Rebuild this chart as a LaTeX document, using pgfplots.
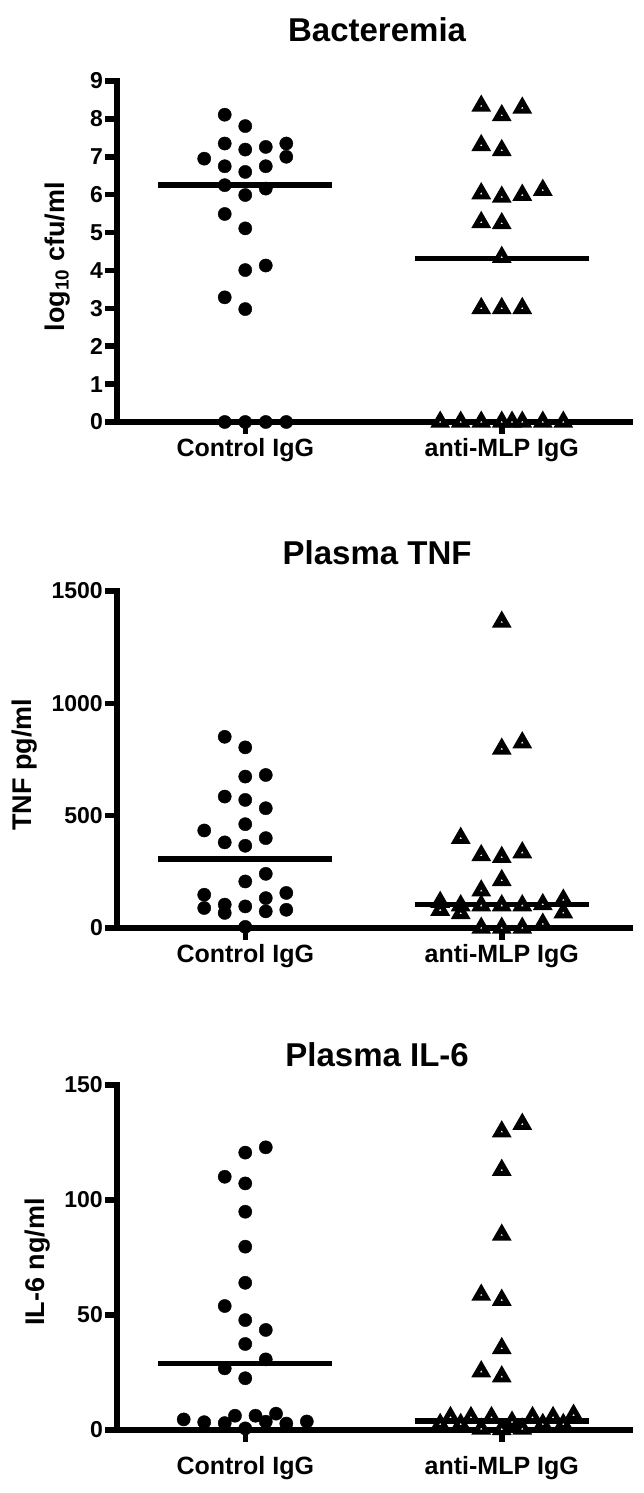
\documentclass[border=0pt]{standalone}
\usepackage{pgfplots}
\pgfplotsset{compat=1.18}
\usepackage{fontspec}
\setmainfont{Liberation Sans}
\newcommand{\fs}[1]{\fontsize{#1pt}{#1pt}\selectfont\bfseries}
\pgfplotsset{
  panel/.style={
    scale only axis, width=513pt, anchor=south west,
    axis x line*=bottom, axis y line*=left,
    axis line style={-, line width=5.5pt, line cap=rect},
    tick style={line width=5.5pt, black},
    tick align=outside, major tick length=12pt,
    xmin=-0.5, xmax=1.5, ymin=0,
    xtick={0,1}, xticklabels={Control IgG, anti-MLP IgG},
    clip=false,
    /pgf/number format/assume math mode=true,
    /pgf/number format/1000 sep={},
    yticklabel style={font=\fs{23}, inner sep=0pt, xshift=-2pt},
    xticklabel style={font=\fs{25}, inner sep=0pt, yshift=-4pt},
    ylabel style={font=\fs{27}, inner sep=0pt, anchor=south},
    title style={font=\fs{33}, inner sep=0pt, anchor=base, at={(axis description cs:0.507,1)}, yshift=33pt},
  },
  ctrl/.style={only marks, mark=*, mark size=6.6pt, mark options={draw=none, fill=black}},
  anti/.style={only marks, mark=triangle*, mark size=6.5pt, mark options={draw=black, fill=white, line width=5pt, line join=miter}},
  med/.style={black, line width=5.5pt, no marks},
}
\begin{document}
\begin{tikzpicture}
\useasboundingbox (0,0) rectangle (643pt,1493pt);
% ---------- Bacteremia ----------
\begin{axis}[panel, at={(117pt,1071pt)}, height=341pt, ymax=9, ytick={0,1,...,9},
  title={Bacteremia}, ylabel={log\textsubscript{10} cfu/ml},
  ylabel style={at={(axis description cs:-0.0916,0.485)}}]
\addplot[med] coordinates {(-0.34,6.25) (0.34,6.25)};
\addplot[med] coordinates {(0.66,4.32) (1.34,4.32)};
\addplot[ctrl] coordinates {(-0.08,8.11) (0,7.81) (-0.08,7.35) (0,7.19) (0.08,7.26) (0.16,7.35) (0.16,7.0) (-0.16,6.95) (-0.08,6.75) (0,6.6) (0.08,6.75) (-0.08,6.25) (0.08,6.16) (0,5.99) (-0.08,5.49) (0,5.11) (0,4.01) (0.08,4.13) (-0.08,3.29) (0,2.98) (-0.08,0) (0,0) (0.08,0) (0.16,0)};
\addplot[anti] coordinates {(0.92,8.34) (1,8.09) (1.08,8.29) (0.92,7.30) (1,7.17) (0.92,6.03) (1,5.94) (1.08,5.99) (1.16,6.12) (0.92,5.27) (1,5.24) (1,4.35) (0.92,3.0) (1,3.0) (1.08,3.0) (0.76,0) (0.84,0) (0.92,0) (1,0) (1.04,0) (1.08,0) (1.16,0) (1.24,0)};
\end{axis}
% ---------- Plasma TNF ----------
\begin{axis}[panel, at={(117pt,565pt)}, height=337pt, ymax=1500, ytick={0,500,1000,1500},
  title={Plasma TNF}, title style={yshift=-13pt}, ylabel={TNF pg/ml},
  ylabel style={at={(axis description cs:-0.156,0.485)}}]
\addplot[med] coordinates {(-0.34,307) (0.34,307)};
\addplot[med] coordinates {(0.66,104) (1.34,104)};
\addplot[ctrl] coordinates {(-0.08,851) (0,804) (0,674) (0.08,681) (-0.08,585) (0,570) (0.08,533) (0,462) (-0.16,434) (0.08,400) (-0.08,381) (0,366) (0.08,241) (0,207) (-0.16,148) (-0.16,89) (-0.08,104) (-0.08,67) (0,96) (0.08,133) (0.08,74) (0.16,156) (0.16,81) (0,5)};
\addplot[anti] coordinates {(1,1362) (1,797) (1.08,825) (0.84,400) (0.92,323) (1,315) (1.08,336) (1,212) (0.92,166) (0.76,115) (0.84,100) (0.92,100) (1,100) (1.08,100) (1.16,105) (1.24,125) (0.76,80) (0.84,65) (1.24,68) (0.92,0) (1,0) (1.08,0) (1.16,18)};
\end{axis}
% ---------- Plasma IL-6 ----------
\begin{axis}[panel, at={(117pt,63pt)}, height=345pt, ymax=150, ytick={0,50,100,150},
  title={Plasma IL-6}, title style={yshift=-21pt}, ylabel={IL-6 ng/ml},
  xticklabel style={yshift=-10pt},
  ylabel style={at={(axis description cs:-0.1306,0.487)}}]
\addplot[med] coordinates {(-0.34,29.0) (0.34,29.0)};
\addplot[med] coordinates {(0.66,4.0) (1.34,4.0)};
\addplot[ctrl] coordinates {(0.08,122.9) (0,120.6) (-0.08,110.1) (0,107.2) (0,94.9) (0,79.7) (0,64.0) (-0.08,53.9) (0,47.8) (0.08,43.5) (0,37.4) (0.08,30.7) (-0.08,26.8) (0,22.5) (-0.24,4.6) (-0.16,3.4) (-0.08,3.0) (-0.04,6.2) (0,0.7) (0.04,6.2) (0.08,3.6) (0.12,7.1) (0.16,2.8) (0.24,3.7)};
\addplot[anti] coordinates {(1.08,133) (1,129.7) (1,113) (1,84.8) (0.92,58.7) (1,56.5) (1,35.5) (0.92,25.4) (1,23.2) (0.80,5.5) (0.88,5.5) (0.96,5.5) (1.04,3.5) (1.12,5.5) (1.20,5.5) (1.28,6.5) (0.76,2.5) (0.84,2.5) (1.16,2.5) (1.24,2.5) (0.92,0.5) (1,0.3) (1.08,0.5)};
\end{axis}
\end{tikzpicture}
\end{document}
